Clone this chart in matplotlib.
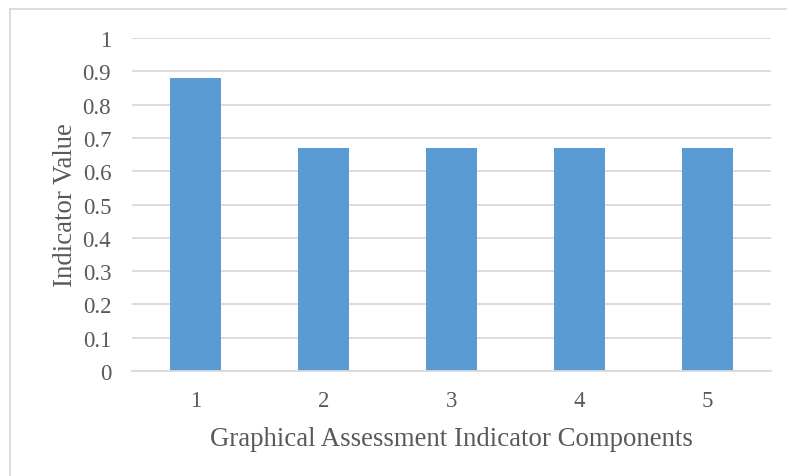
import matplotlib
matplotlib.use("Agg")
import matplotlib.pyplot as plt
from matplotlib.lines import Line2D

components = ["1", "2", "3", "4", "5"]
indicator_values = [0.88, 0.67, 0.67, 0.67, 0.67]
y_ticks = [0, 0.1, 0.2, 0.3, 0.4, 0.5, 0.6, 0.7, 0.8, 0.9, 1]
y_tick_labels = ["0", "0.1", "0.2", "0.3", "0.4", "0.5", "0.6", "0.7", "0.8", "0.9", "1"]

plt.rcParams["font.family"] = ["Liberation Serif", "DejaVu Serif"]
text_color = "#595959"
grid_color = "#D9D9D9"

fig = plt.figure(figsize=(7.87, 4.77), dpi=100)
ax = fig.add_axes([132 / 787, 1 - 372 / 477, (771 - 132) / 787, (372 - 39) / 477])

x = list(range(len(components)))
ax.bar(x, indicator_values, width=0.4, color="#5B9BD5", zorder=3)

ax.set_xlim(-0.5, len(components) - 0.5)
ax.set_ylim(0, 1)
ax.set_yticks(y_ticks)
ax.set_yticklabels(y_tick_labels)
ax.set_xticks(x)
ax.set_xticklabels(components)

ax.yaxis.grid(True, color=grid_color, linewidth=1.3, zorder=0)
ax.set_axisbelow(True)
for side in ["top", "right", "left"]:
    ax.spines[side].set_visible(False)
ax.spines["bottom"].set_color(grid_color)
ax.spines["bottom"].set_linewidth(1.3)
ax.spines["bottom"].set_zorder(4)

ax.tick_params(axis="both", length=0, labelsize=16.5, colors=text_color)
ax.tick_params(axis="y", pad=15)
ax.tick_params(axis="x", pad=14)

ax.set_ylabel("Indicator Value", fontsize=19.3, color=text_color, labelpad=3)
ax.set_xlabel("Graphical Assessment Indicator Components", fontsize=19.3,
              color=text_color, labelpad=10.5)

# outer frame lines (top and left edges)
fig.add_artist(Line2D([9.5 / 787, 1], [1 - 9.5 / 477, 1 - 9.5 / 477],
                      transform=fig.transFigure, color=grid_color, linewidth=1.3))
fig.add_artist(Line2D([9.5 / 787, 9.5 / 787], [0, 1 - 9.5 / 477],
                      transform=fig.transFigure, color=grid_color, linewidth=1.3))

fig.savefig("out.png", dpi=100, facecolor="white")
